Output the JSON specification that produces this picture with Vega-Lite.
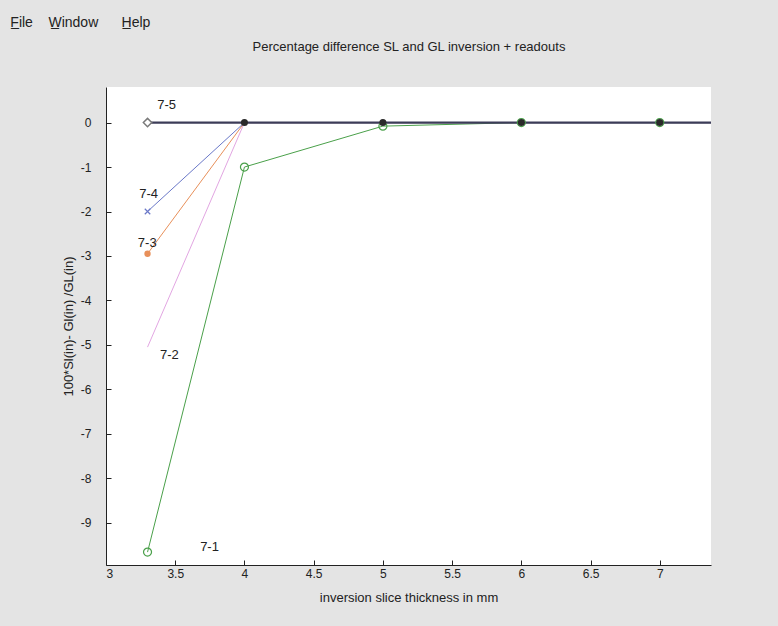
{
  "$schema": "https://vega.github.io/schema/vega-lite/v6.json",
  "width": 605,
  "height": 478,
  "autosize": "none",
  "padding": {"left": 106, "top": 87, "right": 67, "bottom": 61},
  "background": "#e4e4e4",
  "config": {
    "view": {"fill": "white", "stroke": null},
    "font": "Liberation Sans",
    "axis": {
      "labelFont": "Liberation Sans",
      "titleFont": "Liberation Sans",
      "labelFontSize": 12,
      "titleFontSize": 13,
      "titleFontWeight": "normal",
      "labelColor": "#222",
      "titleColor": "#222",
      "domainColor": "#222",
      "tickColor": "#222",
      "grid": false
    }
  },
  "title": {
    "text": "F̲ile\u00a0\u00a0\u00a0 W̲indow\u00a0\u00a0\u00a0\u00a0\u00a0 H̲elp",
    "anchor": "start",
    "frame": "bounds",
    "fontSize": 14,
    "fontWeight": "normal",
    "color": "#222",
    "font": "Liberation Sans",
    "dx": -52,
    "offset": 10
  },
  "datasets": {
    "series": [
      {"s": "7-1", "x": 3.3, "y": -9.66},
      {"s": "7-1", "x": 4, "y": -1},
      {"s": "7-1", "x": 5, "y": -0.08},
      {"s": "7-1", "x": 6, "y": 0},
      {"s": "7-1", "x": 7, "y": 0},
      {"s": "7-1", "x": 7.6, "y": 0},
      {"s": "7-2", "x": 3.3, "y": -5.05},
      {"s": "7-2", "x": 4, "y": 0},
      {"s": "7-2", "x": 5, "y": 0},
      {"s": "7-2", "x": 6, "y": 0},
      {"s": "7-2", "x": 7, "y": 0},
      {"s": "7-2", "x": 7.6, "y": 0},
      {"s": "7-3", "x": 3.3, "y": -2.95},
      {"s": "7-3", "x": 4, "y": 0},
      {"s": "7-3", "x": 5, "y": 0},
      {"s": "7-3", "x": 6, "y": 0},
      {"s": "7-3", "x": 7, "y": 0},
      {"s": "7-3", "x": 7.6, "y": 0},
      {"s": "7-4", "x": 3.3, "y": -2},
      {"s": "7-4", "x": 4, "y": 0},
      {"s": "7-4", "x": 5, "y": 0},
      {"s": "7-4", "x": 6, "y": 0},
      {"s": "7-4", "x": 7, "y": 0},
      {"s": "7-4", "x": 7.6, "y": 0},
      {"s": "7-5", "x": 3.3, "y": 0},
      {"s": "7-5", "x": 4, "y": 0},
      {"s": "7-5", "x": 5, "y": 0},
      {"s": "7-5", "x": 6, "y": 0},
      {"s": "7-5", "x": 7, "y": 0},
      {"s": "7-5", "x": 7.6, "y": 0}
    ],
    "labels": [
      {"t": "7-5", "x": 3.37, "y": 0.4},
      {"t": "7-4", "x": 3.24, "y": -1.6},
      {"t": "7-3", "x": 3.23, "y": -2.7},
      {"t": "7-2", "x": 3.39, "y": -5.22},
      {"t": "7-1", "x": 3.68, "y": -9.55}
    ]
  },
  "layer": [
    {
      "data": {"name": "series"},
      "transform": [{"filter": "datum.s != '7-5'"}],
      "mark": {"type": "line", "clip": true, "strokeWidth": 1},
      "encoding": {
        "x": {
          "field": "x", "type": "quantitative",
          "scale": {"domain": [3, 7.37], "nice": false, "zero": false},
          "axis": {
            "values": [3, 3.5, 4, 4.5, 5, 5.5, 6, 6.5, 7],
            "format": "~g",
            "tickSize": -5,
            "zindex": 1,
            "labelPadding": 8,
            "title": "inversion slice thickness in mm",
            "titlePadding": 12
          }
        },
        "y": {
          "field": "y", "type": "quantitative",
          "scale": {"domain": [-9.95, 0.8], "nice": false, "zero": false},
          "axis": {
            "values": [-9, -8, -7, -6, -5, -4, -3, -2, -1, 0],
            "labelExpr": "replace(datum.label, '−', '-')",
            "tickSize": -5,
            "zindex": 1,
            "labelPadding": 20,
            "title": "100*Sl(in)- Gl(in) /GL(in)",
            "titlePadding": 5
          }
        },
        "color": {
          "field": "s", "type": "nominal", "legend": null,
          "scale": {"domain": ["7-1", "7-2", "7-3", "7-4", "7-5"], "range": ["#4aa04a", "#e2a6e2", "#e8905a", "#6a78c8", "#3c3c58"]}
        }
      }
    },
    {
      "data": {"name": "series"},
      "transform": [{"filter": "datum.s == '7-5'"}],
      "mark": {"type": "line", "clip": true, "strokeWidth": 2.2, "color": "#3c3c58"},
      "encoding": {
        "x": {"field": "x", "type": "quantitative", "axis": null},
        "y": {"field": "y", "type": "quantitative"}
      }
    },
    {
      "data": {"name": "series"},
      "transform": [{"filter": "datum.s == '7-1' && datum.x <= 7"}],
      "mark": {"type": "point", "shape": "circle", "filled": false, "color": "#4aa04a", "strokeWidth": 1.2, "size": 64, "opacity": 1},
      "encoding": {
        "x": {"field": "x", "type": "quantitative", "axis": null},
        "y": {"field": "y", "type": "quantitative"}
      }
    },
    {
      "data": {"name": "series"},
      "transform": [{"filter": "datum.s == '7-3' && datum.x < 3.5"}],
      "mark": {"type": "point", "shape": "circle", "filled": true, "color": "#e8905a", "size": 40, "opacity": 1},
      "encoding": {
        "x": {"field": "x", "type": "quantitative", "axis": null},
        "y": {"field": "y", "type": "quantitative"}
      }
    },
    {
      "data": {"name": "series"},
      "transform": [{"filter": "datum.s == '7-4' && datum.x < 3.5"}],
      "mark": {"type": "point", "shape": "M-1,-1L1,1M1,-1L-1,1", "filled": false, "color": "#6a78c8", "strokeWidth": 1.2, "size": 30, "opacity": 1},
      "encoding": {
        "x": {"field": "x", "type": "quantitative", "axis": null},
        "y": {"field": "y", "type": "quantitative"}
      }
    },
    {
      "data": {"name": "series"},
      "transform": [{"filter": "datum.s == '7-5' && datum.x < 3.5"}],
      "mark": {"type": "point", "shape": "diamond", "filled": true, "fill": "white", "stroke": "#7a7a7a", "strokeWidth": 1.5, "size": 70, "opacity": 1},
      "encoding": {
        "x": {"field": "x", "type": "quantitative", "axis": null},
        "y": {"field": "y", "type": "quantitative"}
      }
    },
    {
      "data": {"name": "series"},
      "transform": [{"filter": "datum.s == '7-5' && datum.x >= 4 && datum.x <= 7"}],
      "mark": {"type": "point", "shape": "circle", "filled": true, "color": "#2a2a2a", "size": 50, "opacity": 1},
      "encoding": {
        "x": {"field": "x", "type": "quantitative", "axis": null},
        "y": {"field": "y", "type": "quantitative"}
      }
    },
    {
      "data": {"name": "labels"},
      "mark": {"type": "text", "fontSize": 13, "color": "#222", "align": "left", "baseline": "middle", "font": "Liberation Sans"},
      "encoding": {
        "x": {"field": "x", "type": "quantitative", "axis": null},
        "y": {"field": "y", "type": "quantitative"},
        "text": {"field": "t"}
      }
    },
    {
      "data": {"values": [{"x": 5}]},
      "mark": {"type": "point", "opacity": 0},
      "encoding": {
        "x": {
          "field": "x", "type": "quantitative",
          "axis": {
            "orient": "top", "domain": false, "ticks": false, "labels": false,
            "title": "Percentage difference SL and GL inversion + readouts",
            "titlePadding": 34,
            "titleFontSize": 13
          }
        }
      }
    }
  ],
  "resolve": {"axis": {"x": "independent"}}
}
